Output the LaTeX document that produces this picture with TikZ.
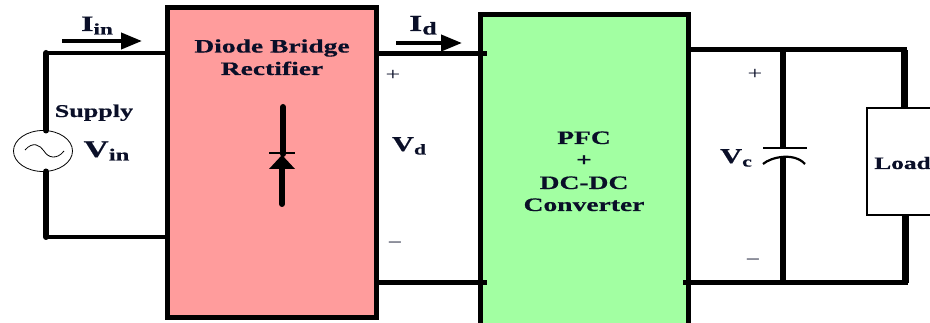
\documentclass[tikz,border=0pt]{standalone}
\usepackage{fontspec}
\setmainfont{Liberation Serif}[FakeStretch=1.45,BoldFeatures={FakeBold=0.5}]
\usetikzlibrary{shapes.geometric,arrows.meta}
\definecolor{bridgered}{HTML}{FF9C9C}
\definecolor{pfcgreen}{HTML}{A2FFA2}
\definecolor{inkdark}{HTML}{0A0F28}
\tikzset{
  block/.style={draw=black,line width=5pt,inner sep=0pt,outer sep=0pt,anchor=north west},
  wire/.style={draw=black,line width=5pt,line cap=rect},
  thinwire/.style={draw=black,line width=4pt,line cap=rect},
  lab/.style={font=\fontsize{19}{19}\selectfont\bfseries,text=inkdark,inner sep=0pt,anchor=base},
  biglab/.style={lab,font=\fontsize{21}{21}\selectfont\bfseries},
  sym/.style={font=\fontsize{18}{18}\selectfont,text=inkdark,inner sep=0pt,anchor=center},
  current/.style={draw=black,line width=4pt,-{Triangle[length=21pt,width=16pt]}},
  plate/.style={draw=black,line width=2.2pt},
}
\newcommand{\subt}[3]{#1\raisebox{-3.5pt}{\fontsize{#3}{#3}\selectfont #2}}
\begin{document}
\begin{tikzpicture}[x=1pt,y=-1pt]
\useasboundingbox (0,0) rectangle (930,323);
\clip (0,0) rectangle (930,323);
% blocks
\node[block,fill=bridgered,minimum width=208.5pt,minimum height=310pt] (bridge) at (167.5,8) {};
\node[block,fill=pfcgreen,minimum width=208.5pt,minimum height=340pt] (pfc) at (480,15) {};
\node[draw=black,line width=2.2pt,fill=white,inner sep=0pt,outer sep=0pt,anchor=north west,minimum width=100pt,minimum height=107pt] (load) at (867,108) {};
\node[draw=black,line width=.8pt,fill=white,ellipse,inner sep=0pt,outer sep=0pt,minimum width=59pt,minimum height=41pt] (src) at (43,151) {};
% junction coordinates
\coordinate (tl) at (46,53);
\coordinate (bl) at (46,237);
\coordinate (bi1) at (bridge.west |- tl);
\coordinate (bi2) at (bridge.west |- bl);
\coordinate (bo1) at (bridge.east |- 0,54);
\coordinate (bo2) at (bridge.east |- 0,283);
\coordinate (pi1) at (484,54);
\coordinate (pi2) at (484,283);
\coordinate (po1) at (pfc.east |- 0,50);
\coordinate (po2) at (685,283);
\coordinate (ct) at (783,50);
\coordinate (cb) at (783,283);
\coordinate (tr) at (904,50);
\coordinate (br) at (905,283);
\coordinate (capa) at (783,148);
\coordinate (capb) at (783,158);
% input loop
\draw[thinwire] (bi1) -- (tl);
\draw[thinwire] (bi2) -- (bl);
\draw[draw=black,line width=6pt,line cap=round] (tl) -- (src.north -| tl);
\draw[draw=black,line width=6pt,line cap=round] (bl) -- (src.south -| bl);
% middle link
\draw[wire] (bo1) -- (pi1);
\draw[wire] (bo2) -- (pi2);
% output
\draw[wire] (po1) -- (tr);
\draw[wire] (po2) -- (br);
\draw[draw=black,line width=7pt] (tr) -- (tr |- load.north);
\draw[draw=black,line width=7pt] (br) -- (br |- load.south);
\draw[draw=black,line width=6.5pt] (ct) -- (capa);
\draw[draw=black,line width=6.5pt] (capb) -- (cb);
% capacitor plates
\draw[plate] (763,148) -- (807,148);
\draw[plate] (763,164) .. controls (771,157) and (794,152) .. (805,164);
% source sine
\draw[line width=.8pt,black] (25,150) .. controls (33,141) and (40,145) .. (44,151) .. controls (48,158) and (57,160) .. (64,151);
% diode
\coordinate (dt) at (283,107);
\coordinate (dm) at (283,154);
\coordinate (db) at (282,204);
\draw[draw=black,line width=6pt,line cap=round] (dt) -- (dm);
\draw[draw=black,line width=6pt,line cap=round] (282,168) -- (db);
\draw[draw=black,line width=2pt] (269,153) -- (295,153);
\fill[black] (282,155) -- (295,169) -- (269,169) -- cycle;
% current arrows
\coordinate (ia) at (62,41);
\coordinate (ib) at (142,41);
\coordinate (ja) at (396,43);
\coordinate (jb) at (462,43);
\draw[current] (ia) -- (ib);
\draw[current] (ja) -- (jb);
% labels
\node[lab] (t1) at (272,52.5) {Diode Bridge};
\node[lab] (t2) at (272,75) {Rectifier};
\node[lab,font=\fontsize{18}{18}\selectfont\bfseries] (t3) at (94,117) {Supply};
\node[lab,font=\fontsize{24}{24}\selectfont\bfseries] (t4) at (106.5,157) {\subt{V}{in}{17}};
\node[lab,font=\fontsize{22}{22}\selectfont\bfseries] (t5) at (97,31) {\subt{I}{in}{16}};
\node[lab,font=\fontsize{23}{23}\selectfont\bfseries] (t6) at (423,31) {\subt{I}{d}{18}};
\node[biglab] (t7) at (409,151) {\subt{V}{d}{15}};
\node[sym] (p1) at (393,75) {+};
\node[sym] (m1) at (395,245) {\textminus};
\node[lab] (t8) at (584,144) {PFC};
\node[lab] (t9) at (584,166) {+};
\node[lab] (t10) at (584,189) {DC-DC};
\node[lab] (t11) at (584,211) {Converter};
\node[biglab] (t12) at (736,163) {\subt{V}{c}{15}};
\node[sym] (p2) at (755,74) {+};
\node[sym] (m2) at (753,262) {\textminus};
\node[lab,font=\fontsize{17.5}{17.5}\selectfont\bfseries] (t13) at (902.5,169) {Load};
\end{tikzpicture}
\end{document}
